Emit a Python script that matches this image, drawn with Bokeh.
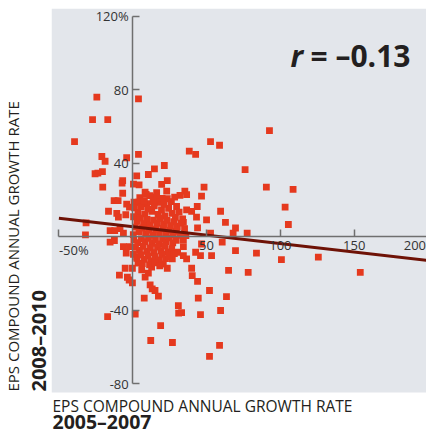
from bokeh.plotting import figure
from bokeh.models import Range1d, FixedTicker, Label, Title, BoxAnnotation
from bokeh.embed import file_html
from bokeh.resources import INLINE

# EPS compound annual growth rate (%), 2005-2007 (x) vs 2008-2010 (y)
growth_2005_2007 = [
    -39.4, -24.3, -27.2, -16.9, 3.9, 92.6, 52.7, 58.8, 38.3, -20.9, -18.7, -4.1, 3.9, 42.6, 76.1,
    21.4, 14.7, 10.6, 2.7, -20.5, -25.5, -23.6, -20.3, -6.8, -7.2, 0.5, 4.3, 19.6, 23.4, -6.8,
    8.4, 23.0, 35.3, 32.0, 36.5, 48.3, 46.6, 90.5, 108.6, -12.6, -9.9, -4.1, 0.9, 3.9, 9.5,
    15.5, 17.4, 23.4, 43.7, 36.5, 39.9, 43.2, 29.7, 59.5, 103.2, -16.4, -10.8, -4.7, -9.7, -2.2,
    34.3, 50.0, 62.8, 105.4, 69.6, 68.0, 77.5, 52.7, 43.9, -31.6, -32.0, -15.3, -12.2, -8.6, -6.3,
    -15.3, -12.4, -6.3, -4.4, -2.2, 2.7, 3.6, -5.1, -0.2, -9.0, -3.6, -2.4, -0.2, 6.1, 8.4,
    10.6, 12.8, 11.8, 13.2, 15.1, 17.4, 7.8, 20.7, 23.4, 26.8, 30.9, 31.1, 33.1, -17.0, 1.7,
    18.9, 12.2, 26.9, 58.8, 52.0, 45.9, 59.5, 44.4, 63.5, 52.0, 43.9, 40.3, 39.9, 64.9, 78.2,
    34.3, 46.6, 60.6, 42.6, 45.9, 53.4, 36.5, 34.3, 69.6, 83.8, 100.7, 125.7, 154.1, 34.3, 36.0,
    30.4,
    1.2, 3.5, 5.8, 8.1, 10.4, 12.9, 14.6, 17.2, 19.5, 21.8, 24.3, 26.7, 28.9, 31.4, 33.8,
    0.6, 2.9, 5.2, 7.4, 9.7, 11.8, 14.1, 16.5, 18.7, 20.9, 23.2, 25.6, 27.8, 30.2, 32.6,
    35.1, 1.8, 4.3, 6.6, 8.8, 11.2, 13.5, 15.7, 18.1, 20.4, 22.6, 24.9, 27.3, 29.6, 31.9,
    0.4, 4.8, 7.9, 11.6, 13.8, 19.9, 21.3, 26.2, 9.1, 16.2, 28.4,
    0.8, 3.4, 5.9, 8.3, 10.7, 13.1, 15.4, 17.8, 20.2, 22.5, 24.8, 27.1, 29.5, 1.9, 4.6,
    7.1, 9.5, 12.0, 14.3, 16.8, 19.1, 21.6, 23.9, 26.4, 0.5, 2.8, 5.4, 7.9, 10.3, 12.6,
    15.1, 17.6, 19.8, 22.2, 6.5, 11.4, 14.9, 18.3, 24.6, 28.2,
]
growth_2008_2010 = [
    51.8, 76.0, 63.8, 63.8, 75.0, 57.8, 51.8, 49.8, 46.6, 43.7, 41.1, 43.0, 44.8, 44.8, 36.6,
    38.8, 37.0, 33.9, 33.1, 35.5, 34.3, 34.6, 27.0, 30.6, 29.2, 28.7, 28.2, 28.5, 30.6, 23.7,
    24.3, 24.8, 24.8, 22.5, 23.0, 27.0, 22.1, 27.0, 25.8, 19.7, 19.7, 17.8, 18.8, 18.8, 18.0,
    21.7, 18.8, 20.7, 16.5, 14.6, 13.8, 10.7, 16.5, 13.9, 16.1, 13.9, 12.8, 12.0, 10.7, 16.1,
    7.9, 9.2, 7.9, 6.7, 4.8, 2.0, 2.0, 2.0, 4.9, 7.6, 1.1, 3.4, 3.4, 4.4, 2.0,
    -2.9, -2.0, -5.3, -8.9, -5.3, -11.1, -14.3, -17.1, -17.1, -20.8, -22.0, -23.5, -25.1, -18.0, -21.9,
    -19.8, -16.5, -26.2, -28.3, -29.2, -32.3, -33.4, -14.8, -17.1, -12.0, -37.4, -41.5, -41.2, -43.4, -42.0,
    -48.3, -56.4, -57.5, -59.1, -65.0, -42.3, -40.1, -33.4, -32.5, -29.2, -24.2, -21.1, -17.1, -18.3, -19.3,
    -5.3, -3.9, -2.9, -8.4, -10.2, -10.2, -12.0, -10.2, -7.5, -8.9, -12.4, -11.1, -19.4, -1.6, 0.7,
    -8.4,
    15.8, 13.2, 16.4, 12.5, 15.1, 13.8, 16.9, 12.2, 14.7, 11.4, 15.5, 12.8, 10.6, 13.4, 9.8,
    10.9, 8.4, 10.2, 7.1, 9.6, 6.4, 9.1, 7.3, 10.0, 6.8, 8.9, 6.1, 8.2, 5.6, 7.4,
    4.5, 5.3, 2.9, 4.8, 1.6, 3.7, 0.9, 4.2, 2.3, 4.6, 1.4, 3.5, 1.1, 3.0, 0.8,
    1.2, 21.3, 19.6, 22.4, 19.2, 20.9, 17.6, 19.1, 23.1, 24.0, 21.6,
    -1.8, -3.2, -1.1, -2.7, -0.9, -3.5, -1.6, -3.9, -1.2, -2.8, -0.6, -3.3, -1.9, -5.8, -7.4,
    -5.2, -7.9, -6.1, -8.6, -5.6, -7.7, -5.0, -8.2, -6.4, -9.6, -11.7, -9.9, -12.3, -10.4, -13.1,
    -10.8, -12.6, -9.5, -11.9, -14.6, -15.3, -14.2, -15.8, -10.7, -9.1,
]

# regression (trend) line end points
trend_x = [-50, 200]
trend_y = [10.1, -12.9]

x_ticks = [-50, 50, 100, 150, 200]
x_tick_labels = {50: "50", 100: "100", 150: "150", 200: "", -50: ""}
y_ticks = [-80, -40, 40, 80, 120]
y_tick_labels = {-80: "-80", -40: "-40", 40: "40", 80: "80", 120: "120%"}

FONT = "Open Sans"
INK = "#231f20"
PANEL_BOTTOM = -84.7   # lower edge of the grey plotting panel (data units)

p = figure(frame_width=377, frame_height=425,
           x_range=Range1d(-55.0, 200.3), y_range=Range1d(-107.0, 124.2),
           output_backend="svg", toolbar_location=None,
           min_border_left=41, min_border_right=0, min_border_top=8, min_border_bottom=0)
p.background_fill_color = "white"
p.border_fill_color = "white"
p.outline_line_color = None
p.grid.visible = False

p.add_layout(BoxAnnotation(bottom=PANEL_BOTTOM, fill_color="#e3e6eb", fill_alpha=1.0,
                           line_color=None, level="underlay"))

p.scatter(growth_2005_2007, growth_2008_2010, marker="square", size=6.8,
          fill_color="#e5391e", line_color=None)
p.line(trend_x, trend_y, line_color="#6e1206", line_width=3)

for ax in (p.xaxis, p.yaxis):
    ax.fixed_location = 0
    ax.axis_line_color = "#6f6f6f"
    ax.axis_line_width = 1.5
    ax.major_tick_line_color = "#6f6f6f"
    ax.major_tick_line_width = 1.5
    ax.major_tick_in = 7
    ax.major_tick_out = 0
    ax.minor_tick_line_color = None
    ax.major_label_text_font = FONT
    ax.major_label_text_font_size = "13px"
    ax.major_label_text_color = "#333333"

p.xaxis.ticker = FixedTicker(ticks=x_ticks)
p.xaxis.major_label_overrides = x_tick_labels
p.xaxis.bounds = (-50, 200)
p.xaxis.major_label_standoff = 4
p.yaxis.ticker = FixedTicker(ticks=y_ticks)
p.yaxis.major_label_overrides = y_tick_labels
p.yaxis.bounds = (-80, 120)
p.yaxis.major_label_standoff = 4

tick_style = dict(text_font=FONT, text_font_size="13px", text_color="#333333",
                  text_baseline="top", y_offset=-4)
p.add_layout(Label(x=-50, y=0, text="-50%", text_align="left", **tick_style))
p.add_layout(Label(x=200, y=0, text="200", text_align="right", x_offset=-2, **tick_style))

p.add_layout(Label(x=239, y=378, x_units="screen", y_units="screen", text="r",
                   text_font=FONT, text_font_size="30px", text_font_style="bold italic",
                   text_color=INK, text_baseline="alphabetic"))
p.add_layout(Label(x=259, y=378, x_units="screen", y_units="screen", text="= \u20130.13",
                   text_font=FONT, text_font_size="30px", text_font_style="bold",
                   text_color=INK, text_baseline="alphabetic"))

p.add_layout(Title(text="2008\u20132010", align="left", text_font=FONT, text_font_size="20px",
                   text_font_style="bold", text_color=INK, standoff=0, offset=42), "left")
p.add_layout(Title(text="EPS COMPOUND ANNUAL GROWTH RATE", align="left", text_font=FONT,
                   text_font_size="15px", text_font_style="normal", text_color=INK,
                   standoff=0, offset=42), "left")

p.add_layout(Label(x=1, y=27.3, x_units="screen", y_units="screen",
                   text="EPS COMPOUND ANNUAL GROWTH RATE", text_font=FONT,
                   text_font_size="15.5px", text_color=INK, text_baseline="middle"))
p.add_layout(Label(x=1, y=12.5, x_units="screen", y_units="screen",
                   text="2005\u20132007", text_font=FONT, text_font_size="19.5px",
                   text_font_style="bold", text_color=INK, text_baseline="middle"))

open("out.html", "w").write(file_html(p, INLINE))
